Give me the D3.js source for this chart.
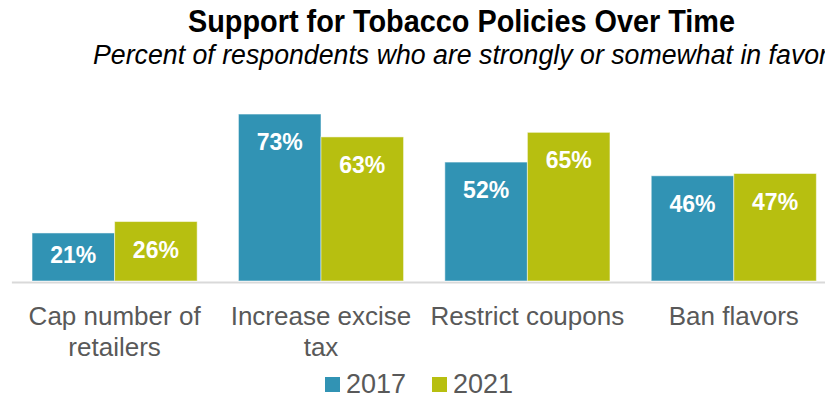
<!DOCTYPE html>
<html>
<head>
<meta charset="utf-8">
<script src="https://cdn.jsdelivr.net/npm/d3@7"></script>
<style>
  body { margin: 0; background: #fff; overflow: hidden; }
</style>
</head>
<body>
<div class="canvas"></div>
<script>
// chart data
const categories = ['Cap number of retailers', 'Increase excise tax', 'Restrict coupons', 'Ban flavors'];
const years = ['2017', '2021'];
const values2017 = [21, 73, 52, 46];
const values2021 = [26, 63, 65, 47];
const colors = ['#3193b4', '#b7bf10'];

const svg = d3.select('.canvas')
    .append('svg')
    .attr('width', 825)
    .attr('height', 398);

// the plot runs past the right edge of the window, like the original
const baseY = 281;
const x0 = d3.scaleBand()
    .domain(categories)
    .range([11.4, 837])
    .paddingInner(0.2)
    .paddingOuter(0.1);

const x1 = d3.scaleBand()
    .domain(years)
    .range([0, x0.bandwidth()]);

const y = d3.scaleLinear()
    .domain([0, 80])
    .range([baseY, baseY - 80 * 2.287]);

const data = [];
categories.forEach((c, i) => {
    data.push({ cat: c, year: years[0], value: values2017[i] });
    data.push({ cat: c, year: years[1], value: values2021[i] });
});

// title + subtitle
svg.append('text')
    .attr('x', 188)
    .attr('y', 32)
    .attr('textLength', 547)
    .attr('lengthAdjust', 'spacingAndGlyphs')
    .attr('font-family', '"Liberation Sans Narrow", "Arial Narrow", sans-serif')
    .attr('font-weight', 'bold')
    .attr('font-size', 32)
    .attr('fill', '#000')
    .text('Support for Tobacco Policies Over Time');

svg.append('text')
    .attr('x', 93)
    .attr('y', 64)
    .attr('textLength', 735)
    .attr('lengthAdjust', 'spacingAndGlyphs')
    .attr('font-family', '"Liberation Sans", Arial, sans-serif')
    .attr('font-style', 'italic')
    .attr('font-size', 27)
    .attr('fill', '#000')
    .text('Percent of respondents who are strongly or somewhat in favor');

// axis
const xAxisGroup = svg.append('g')
    .attr('transform', `translate(0, ${baseY + 1})`);

xAxisGroup.call(d3.axisBottom(x0).tickSize(0).tickSizeOuter(0));

xAxisGroup.select('.domain')
    .attr('stroke', '#d9d9d9')
    .attr('stroke-width', 2);

xAxisGroup.selectAll('text')
    .attr('y', 43)
    .attr('dy', 0)
    .attr('font-family', '"Liberation Sans", Arial, sans-serif')
    .attr('font-size', 26)
    .attr('fill', '#595959')
    .call(wrap, x0.step());

// bars
const groups = svg.selectAll('g.cat')
    .data(data)
    .enter()
    .append('g')
    .attr('class', 'cat')
    .attr('transform', d => `translate(${x0(d.cat)}, 0)`);

groups.append('rect')
    .attr('x', d => x1(d.year))
    .attr('y', d => y(d.value))
    .attr('width', x1.bandwidth())
    .attr('height', d => y(0) - y(d.value))
    .attr('fill', d => colors[years.indexOf(d.year)])
    .attr('stroke', '#fff')
    .attr('stroke-opacity', 0.5)
    .attr('stroke-width', 1);

groups.append('text')
    .attr('x', d => x1(d.year) + x1.bandwidth() / 2)
    .attr('y', d => Math.min(y(d.value) + 36, y(0) - 18))
    .attr('text-anchor', 'middle')
    .attr('font-family', '"Liberation Sans", Arial, sans-serif')
    .attr('font-weight', 'bold')
    .attr('font-size', 23)
    .attr('fill', '#fff')
    .text(d => d.value + '%');

// legend
const legend = svg.selectAll('g.legend')
    .data(years)
    .enter()
    .append('g')
    .attr('class', 'legend')
    .attr('transform', (d, i) => `translate(${325 + i * 107}, 377)`);

legend.append('rect')
    .attr('width', 15)
    .attr('height', 15)
    .attr('fill', (d, i) => colors[i]);

legend.append('text')
    .attr('x', 21)
    .attr('y', 16)
    .attr('font-family', '"Liberation Sans", Arial, sans-serif')
    .attr('font-size', 27)
    .attr('fill', '#595959')
    .text(d => d);

function wrap(text, width) {
    text.each(function() {
        const t = d3.select(this);
        const words = t.text().split(/\s+/).reverse();
        const yy = t.attr('y');
        let line = [];
        let lineNo = 0;
        let word;
        let tspan = t.text(null).append('tspan').attr('x', 0).attr('y', yy);
        while ((word = words.pop())) {
            line.push(word);
            tspan.text(line.join(' '));
            if (tspan.node().getComputedTextLength() > width && line.length > 1) {
                line.pop();
                tspan.text(line.join(' '));
                line = [word];
                lineNo++;
                tspan = t.append('tspan').attr('x', 0).attr('y', +yy + lineNo * 31).text(word);
            }
        }
    });
}
</script>
</body>
</html>
